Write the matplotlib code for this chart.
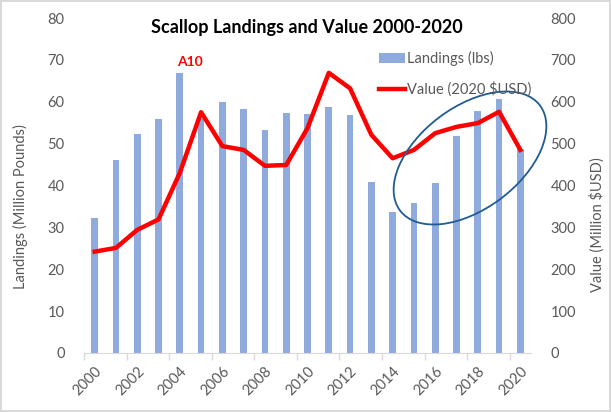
import matplotlib.pyplot as plt
import matplotlib.transforms as mtransforms
from matplotlib.patches import Ellipse
import numpy as np

plt.rcParams['font.family'] = ['Lato', 'DejaVu Sans']

years = list(range(2000, 2021))
landings = [32.3, 46.0, 52.3, 55.9, 66.9, 56.0, 60.0, 58.3, 53.3, 57.4, 57.1,
            58.8, 56.8, 40.9, 33.7, 35.8, 40.6, 51.8, 57.9, 60.6, 48.7]
value = [242, 251, 294, 319, 430, 575, 494, 485, 447, 449, 537,
         669, 632, 521, 465, 485, 525, 540, 549, 576, 485]
tick_years = years[::2]

gray = '#595959'
x = np.arange(len(years))

fig = plt.figure(figsize=(6.11, 4.12), dpi=100)
fig.patch.set_edgecolor('#d9d9d9')
fig.patch.set_linewidth(1.5)
ax = fig.add_axes([84/611, 1 - 353/412, (531-84)/611, (353-18)/412])
ax2 = ax.twinx()

bars = ax.bar(x, landings, width=0.31, color='#8faadc', label='Landings (lbs)', zorder=2)
line, = ax2.plot(x, value, color='#ff0000', lw=3.2, label='Value (2020 $USD)', zorder=3)

ax.set_xlim(-0.5, len(years) - 0.5)
ax.set_ylim(0, 80)
ax2.set_ylim(0, 800)
ax.set_yticks(range(0, 81, 10))
ax2.set_yticks(range(0, 801, 100))

ax.set_xticks(x[::2])
ax.set_xticklabels([str(y) for y in tick_years], rotation=45, ha='right',
                   rotation_mode='anchor', color=gray, fontsize=10.5)
ax.set_xticks(np.arange(-0.5, len(years), 2), minor=True)
ax.tick_params(axis='x', which='major', length=0, pad=8)
ax.tick_params(axis='x', which='minor', length=5, color='#d9d9d9', width=1)
ax.tick_params(axis='y', length=0, pad=14, labelcolor=gray, labelsize=10.5)
ax2.tick_params(axis='y', length=0, pad=14, labelcolor=gray, labelsize=10.5)

for a in (ax, ax2):
    for s in ('top', 'left', 'right'):
        a.spines[s].set_visible(False)
    a.spines['bottom'].set_color('#d9d9d9')
ax2.spines['bottom'].set_visible(False)

ax.text(4.5, 68.5, 'A10', color='#ff0000', fontweight='bold', fontsize=10, ha='center')

fig.text(307/611, 1 - 27/412, 'Scallop Landings and Value 2000-2020',
         ha='center', va='center', fontsize=13, fontweight='bold', color='#000000')
fig.text(20/611, 1 - 207/412, 'Landings (Million Pounds)', rotation=90,
         ha='center', va='center', fontsize=10.5, color=gray)
fig.text(597/611, 1 - 225/412, 'Value (Million $USD)', rotation=90,
         ha='center', va='center', fontsize=10.5, color=gray)

leg = fig.legend(handles=[bars, line], loc='upper left',
                 bbox_to_anchor=(366/611, 1 - 38/412), frameon=False,
                 fontsize=10.5, labelspacing=1.05, handlelength=1.8,
                 handletextpad=0.1, labelcolor=gray)

# ellipse drawn in pixel coordinates
pix = mtransforms.Affine2D().scale(fig.dpi / 100.0)
ell = Ellipse((470, 412 - 158), 175, 102, angle=36.9, fill=False,
              edgecolor='#1f5b94', lw=1.3, transform=pix, zorder=5)
fig.patches.append(ell)

fig.savefig('out.png', dpi=100)
